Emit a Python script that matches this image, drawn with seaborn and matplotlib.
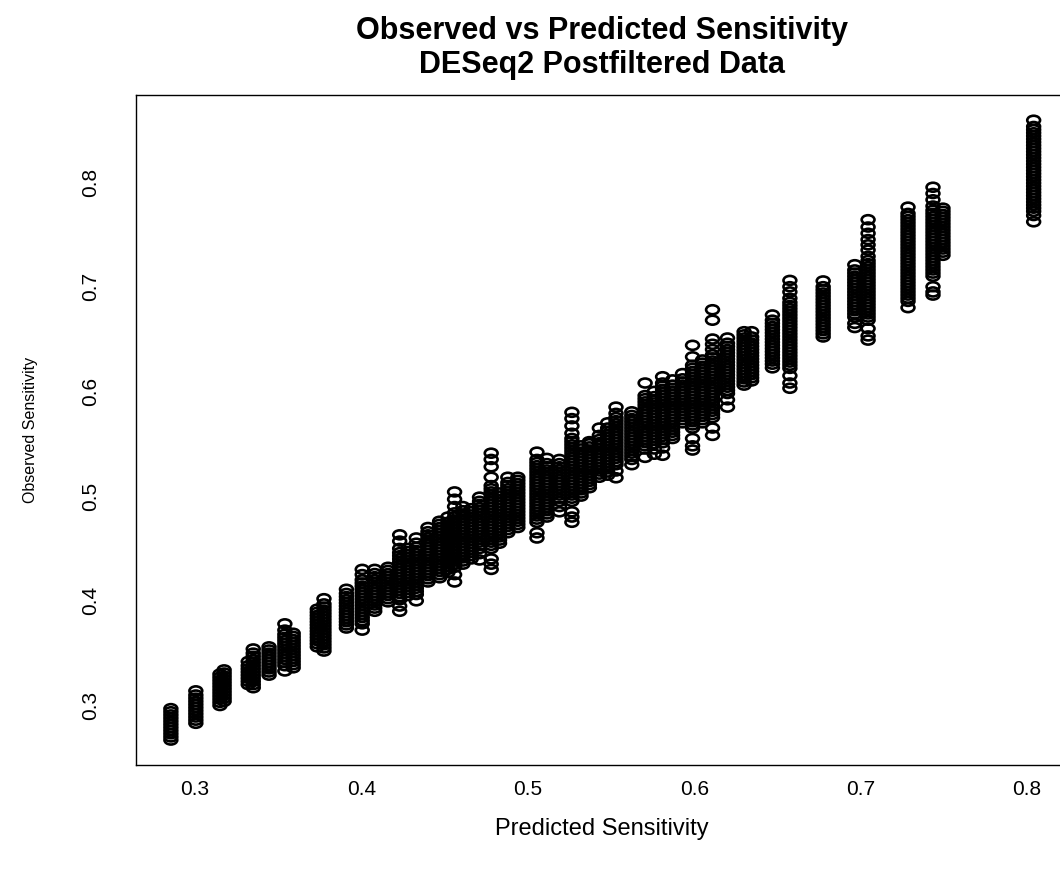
import matplotlib
matplotlib.use("Agg")
import matplotlib.pyplot as plt
from matplotlib.path import Path
from matplotlib.transforms import Affine2D
import numpy as np
import pandas as pd
import seaborn as sns

# Predicted sensitivity levels and the observed sensitivities recorded at each level
predicted_low = [0.2855, 0.3005, 0.3150, 0.3175, 0.3320, 0.3350, 0.3445, 0.3540,
                 0.3590, 0.3735, 0.3775, 0.3910, 0.4005]
observed_low = [
    [0.267, 0.270, 0.273, 0.276, 0.279, 0.282, 0.285, 0.288, 0.291, 0.294, 0.297],
    [0.283, 0.286, 0.289, 0.292, 0.295, 0.298, 0.301, 0.304, 0.307, 0.310, 0.314],
    [0.300, 0.303, 0.306, 0.309, 0.312, 0.315, 0.318, 0.321, 0.324, 0.327, 0.330],
    [0.304, 0.307, 0.310, 0.313, 0.316, 0.319, 0.322, 0.325, 0.328, 0.331, 0.334],
    [0.320, 0.323, 0.326, 0.329, 0.332, 0.335, 0.338, 0.342],
    [0.317, 0.320, 0.323, 0.326, 0.329, 0.332, 0.335, 0.338, 0.341, 0.344, 0.347, 0.350, 0.354],
    [0.329, 0.332, 0.335, 0.338, 0.341, 0.344, 0.347, 0.350, 0.353, 0.356],
    [0.333, 0.338, 0.341, 0.344, 0.347, 0.350, 0.353, 0.356, 0.359, 0.362, 0.365, 0.368,
     0.372, 0.378],
    [0.336, 0.339, 0.342, 0.345, 0.348, 0.351, 0.354, 0.357, 0.360, 0.363, 0.366, 0.369],
    [0.356, 0.359, 0.362, 0.365, 0.368, 0.371, 0.374, 0.377, 0.380, 0.383, 0.386, 0.389, 0.392],
    [0.352, 0.355, 0.358, 0.361, 0.364, 0.367, 0.370, 0.373, 0.376, 0.379, 0.382, 0.385,
     0.388, 0.391, 0.394, 0.397, 0.402],
    [0.374, 0.377, 0.380, 0.383, 0.386, 0.389, 0.392, 0.395, 0.398, 0.401, 0.404, 0.407, 0.411],
    [0.372, 0.378, 0.381, 0.384, 0.387, 0.390, 0.393, 0.396, 0.399, 0.402, 0.405, 0.408,
     0.411, 0.414, 0.417, 0.420, 0.425, 0.430],
]

predicted_mid = [0.4080, 0.4160, 0.4230, 0.4280, 0.4330, 0.4400, 0.4470, 0.4520,
                 0.4560, 0.4610, 0.4660, 0.4710, 0.4780, 0.4830, 0.4880, 0.4940,
                 0.5055, 0.5115, 0.5190, 0.5265, 0.5320, 0.5370, 0.5430, 0.5480]
observed_mid = [
    [0.390, 0.393, 0.396, 0.399, 0.402, 0.405, 0.408, 0.411, 0.414, 0.417, 0.420, 0.423,
     0.426, 0.430],
    [0.399, 0.402, 0.405, 0.408, 0.411, 0.414, 0.417, 0.420, 0.423, 0.426, 0.429, 0.432],
    [0.390, 0.395, 0.401, 0.404, 0.407, 0.410, 0.413, 0.416, 0.419, 0.422, 0.425, 0.428,
     0.431, 0.434, 0.437, 0.440, 0.443, 0.446, 0.450, 0.457, 0.463],
    [0.405, 0.408, 0.411, 0.414, 0.417, 0.420, 0.423, 0.426, 0.429, 0.432, 0.435, 0.438,
     0.441, 0.444, 0.447, 0.450],
    [0.400, 0.406, 0.409, 0.412, 0.415, 0.418, 0.421, 0.424, 0.427, 0.430, 0.433, 0.436,
     0.439, 0.442, 0.445, 0.448, 0.451, 0.455, 0.460],
    [0.418, 0.421, 0.424, 0.427, 0.430, 0.433, 0.436, 0.439, 0.442, 0.445, 0.448, 0.451,
     0.454, 0.457, 0.460, 0.463, 0.466, 0.470],
    [0.422, 0.425, 0.428, 0.431, 0.434, 0.437, 0.440, 0.443, 0.446, 0.449, 0.452, 0.455,
     0.458, 0.461, 0.464, 0.467, 0.470, 0.473, 0.476],
    [0.427, 0.430, 0.433, 0.436, 0.439, 0.442, 0.445, 0.448, 0.451, 0.454, 0.457, 0.460,
     0.463, 0.466, 0.469, 0.472, 0.475, 0.480],
    [0.418, 0.425, 0.432, 0.435, 0.438, 0.441, 0.444, 0.447, 0.450, 0.453, 0.456, 0.459,
     0.462, 0.465, 0.468, 0.471, 0.474, 0.477, 0.480, 0.484, 0.490, 0.497, 0.504],
    [0.435, 0.438, 0.441, 0.444, 0.447, 0.450, 0.453, 0.456, 0.459, 0.462, 0.465, 0.468,
     0.471, 0.474, 0.477, 0.480, 0.483, 0.486, 0.490],
    [0.440, 0.443, 0.446, 0.449, 0.452, 0.455, 0.458, 0.461, 0.464, 0.467, 0.470, 0.473,
     0.476, 0.479, 0.482, 0.485, 0.488],
    [0.439, 0.445, 0.450, 0.453, 0.456, 0.459, 0.462, 0.465, 0.468, 0.471, 0.474, 0.477,
     0.480, 0.483, 0.486, 0.489, 0.492, 0.495, 0.499],
    [0.430, 0.435, 0.440, 0.450, 0.453, 0.456, 0.459, 0.462, 0.465, 0.468, 0.471, 0.474,
     0.477, 0.480, 0.483, 0.486, 0.489, 0.492, 0.495, 0.498, 0.501, 0.504, 0.507, 0.510,
     0.518, 0.528, 0.535, 0.541],
    [0.455, 0.458, 0.461, 0.464, 0.467, 0.470, 0.473, 0.476, 0.479, 0.482, 0.485, 0.488,
     0.491, 0.494, 0.497, 0.500, 0.503],
    [0.465, 0.468, 0.471, 0.474, 0.477, 0.480, 0.483, 0.486, 0.489, 0.492, 0.495, 0.498,
     0.501, 0.504, 0.507, 0.510, 0.513, 0.518],
    [0.470, 0.473, 0.476, 0.479, 0.482, 0.485, 0.488, 0.491, 0.494, 0.497, 0.500, 0.503,
     0.506, 0.509, 0.512, 0.515, 0.518],
    [0.460, 0.465, 0.475, 0.478, 0.481, 0.484, 0.487, 0.490, 0.493, 0.496, 0.499, 0.502,
     0.505, 0.508, 0.511, 0.514, 0.517, 0.520, 0.523, 0.526, 0.529, 0.532, 0.535, 0.542],
    [0.480, 0.483, 0.486, 0.489, 0.492, 0.495, 0.498, 0.501, 0.504, 0.507, 0.510, 0.513,
     0.516, 0.519, 0.522, 0.525, 0.528, 0.531, 0.536],
    [0.485, 0.490, 0.495, 0.498, 0.501, 0.504, 0.507, 0.510, 0.513, 0.516, 0.519, 0.522,
     0.525, 0.528, 0.531, 0.535],
    [0.475, 0.480, 0.485, 0.495, 0.498, 0.501, 0.504, 0.507, 0.510, 0.513, 0.516, 0.519,
     0.522, 0.525, 0.528, 0.531, 0.534, 0.537, 0.540, 0.543, 0.546, 0.549, 0.552, 0.555,
     0.560, 0.567, 0.574, 0.580],
    [0.500, 0.503, 0.506, 0.509, 0.512, 0.515, 0.518, 0.521, 0.524, 0.527, 0.530, 0.533,
     0.536, 0.539, 0.542, 0.545, 0.548],
    [0.508, 0.511, 0.514, 0.517, 0.520, 0.523, 0.526, 0.529, 0.532, 0.535, 0.538, 0.541,
     0.544, 0.547, 0.550, 0.552],
    [0.518, 0.521, 0.524, 0.527, 0.530, 0.533, 0.536, 0.539, 0.542, 0.545, 0.548, 0.551,
     0.554, 0.558, 0.565],
    [0.520, 0.523, 0.526, 0.529, 0.532, 0.535, 0.538, 0.541, 0.544, 0.547, 0.550, 0.553,
     0.556, 0.559, 0.562, 0.565, 0.570],
]

predicted_high = [0.5530, 0.5625, 0.5705, 0.5760, 0.5810, 0.5870, 0.5930, 0.5990,
                  0.6050, 0.6110, 0.6200, 0.6300, 0.6345, 0.6470, 0.6575, 0.6775,
                  0.6965, 0.7045, 0.7285, 0.7435, 0.7495, 0.8040]
observed_high = [
    [0.5175, 0.524, 0.530, 0.533, 0.536, 0.539, 0.542, 0.545, 0.548, 0.551, 0.554, 0.557,
     0.560, 0.563, 0.566, 0.569, 0.572, 0.575, 0.579, 0.585],
    [0.530, 0.535, 0.538, 0.541, 0.544, 0.547, 0.550, 0.553, 0.556, 0.559, 0.562, 0.565,
     0.568, 0.571, 0.574, 0.577, 0.5805],
    [0.537, 0.545, 0.548, 0.551, 0.554, 0.557, 0.560, 0.563, 0.566, 0.569, 0.572, 0.575,
     0.578, 0.581, 0.584, 0.587, 0.590, 0.593, 0.596, 0.608],
    [0.540, 0.545, 0.550, 0.553, 0.556, 0.559, 0.562, 0.565, 0.568, 0.571, 0.574, 0.577,
     0.580, 0.583, 0.586, 0.589, 0.592, 0.595, 0.600],
    [0.539, 0.546, 0.551, 0.554, 0.557, 0.560, 0.563, 0.566, 0.569, 0.572, 0.575, 0.578,
     0.581, 0.584, 0.587, 0.590, 0.593, 0.596, 0.599, 0.602, 0.605, 0.608, 0.614],
    [0.555, 0.558, 0.561, 0.564, 0.567, 0.570, 0.573, 0.576, 0.579, 0.582, 0.585, 0.588,
     0.591, 0.594, 0.597, 0.600, 0.603, 0.606, 0.611],
    [0.570, 0.573, 0.576, 0.579, 0.582, 0.585, 0.588, 0.591, 0.594, 0.597, 0.600, 0.603,
     0.606, 0.609, 0.612, 0.617],
    [0.544, 0.548, 0.555, 0.565, 0.568, 0.571, 0.574, 0.577, 0.580, 0.583, 0.586, 0.589,
     0.592, 0.595, 0.598, 0.601, 0.604, 0.607, 0.610, 0.613, 0.616, 0.619, 0.622, 0.625,
     0.633, 0.644],
    [0.570, 0.573, 0.576, 0.579, 0.582, 0.585, 0.588, 0.591, 0.594, 0.597, 0.600, 0.603,
     0.606, 0.609, 0.612, 0.615, 0.618, 0.621, 0.624, 0.627, 0.630],
    [0.558, 0.565, 0.575, 0.578, 0.581, 0.584, 0.587, 0.590, 0.593, 0.596, 0.599, 0.602,
     0.605, 0.608, 0.611, 0.614, 0.617, 0.620, 0.623, 0.626, 0.629, 0.632, 0.635, 0.640,
     0.645, 0.650, 0.668, 0.678],
    [0.585, 0.592, 0.598, 0.601, 0.604, 0.607, 0.610, 0.613, 0.616, 0.619, 0.622, 0.625,
     0.628, 0.631, 0.634, 0.637, 0.640, 0.643, 0.646, 0.651],
    [0.606, 0.609, 0.612, 0.615, 0.618, 0.621, 0.624, 0.627, 0.630, 0.633, 0.636, 0.639,
     0.642, 0.645, 0.648, 0.651, 0.654, 0.657],
    [0.610, 0.613, 0.616, 0.619, 0.622, 0.625, 0.628, 0.631, 0.634, 0.637, 0.640, 0.643,
     0.646, 0.649, 0.652, 0.657],
    [0.6225, 0.626, 0.629, 0.632, 0.635, 0.638, 0.641, 0.644, 0.647, 0.650, 0.653, 0.656,
     0.659, 0.662, 0.665, 0.668, 0.673],
    [0.603, 0.608, 0.615, 0.622, 0.625, 0.628, 0.631, 0.634, 0.637, 0.640, 0.643, 0.646,
     0.649, 0.652, 0.655, 0.658, 0.661, 0.664, 0.667, 0.670, 0.673, 0.676, 0.679, 0.682,
     0.685, 0.689, 0.695, 0.700, 0.706],
    [0.652, 0.655, 0.658, 0.661, 0.664, 0.667, 0.670, 0.673, 0.676, 0.679, 0.682, 0.685,
     0.688, 0.691, 0.694, 0.697, 0.700, 0.7055],
    [0.661, 0.665, 0.671, 0.674, 0.677, 0.680, 0.683, 0.686, 0.689, 0.692, 0.695, 0.698,
     0.701, 0.704, 0.707, 0.710, 0.713, 0.716, 0.721],
    [0.649, 0.653, 0.660, 0.668, 0.671, 0.674, 0.677, 0.680, 0.683, 0.686, 0.689, 0.692,
     0.695, 0.698, 0.701, 0.704, 0.707, 0.710, 0.713, 0.716, 0.719, 0.722, 0.725, 0.729,
     0.735, 0.740, 0.745, 0.751, 0.757, 0.764],
    [0.680, 0.686, 0.689, 0.692, 0.695, 0.698, 0.701, 0.704, 0.707, 0.710, 0.713, 0.716,
     0.719, 0.722, 0.725, 0.728, 0.731, 0.734, 0.737, 0.740, 0.743, 0.746, 0.749, 0.752,
     0.755, 0.758, 0.761, 0.764, 0.767, 0.770, 0.776],
    [0.692, 0.695, 0.700, 0.710, 0.713, 0.716, 0.719, 0.722, 0.725, 0.728, 0.731, 0.734,
     0.737, 0.740, 0.743, 0.746, 0.749, 0.752, 0.755, 0.758, 0.761, 0.764, 0.767, 0.770,
     0.773, 0.777, 0.783, 0.789, 0.795],
    [0.730, 0.733, 0.736, 0.739, 0.742, 0.745, 0.748, 0.751, 0.754, 0.757, 0.760, 0.763,
     0.766, 0.769, 0.772, 0.775],
    [0.762, 0.768, 0.772, 0.775, 0.778, 0.781, 0.784, 0.787, 0.790, 0.793, 0.796, 0.799,
     0.802, 0.805, 0.808, 0.811, 0.814, 0.817, 0.820, 0.823, 0.826, 0.829, 0.832, 0.835,
     0.838, 0.841, 0.844, 0.847, 0.850, 0.853, 0.859],
]

x_ticks = [0.3, 0.4, 0.5, 0.6, 0.7, 0.8]
y_ticks = [0.3, 0.4, 0.5, 0.6, 0.7, 0.8]

# Long-format table: one row per (predicted, observed) pair
rows = []
for preds, obs in ((predicted_low, observed_low),
                   (predicted_mid, observed_mid),
                   (predicted_high, observed_high)):
    for p, values in zip(preds, obs):
        for v in values:
            rows.append((p, v))
df = pd.DataFrame(rows, columns=["predicted", "observed"])

sns.set_style("white")
plt.rcParams["font.family"] = ["Liberation Sans", "DejaVu Sans"]

W, H = 1060, 869
fig = plt.figure(figsize=(W / 100, H / 100), dpi=100)

# R-style limits: data range extended by 4% on each side
xlo, xhi = df["predicted"].min(), df["predicted"].max()
ylo, yhi = df["observed"].min(), df["observed"].max()
xpad, ypad = 0.04 * (xhi - xlo), 0.04 * (yhi - ylo)
xlo, xhi = xlo - xpad, xhi + xpad
ylo, yhi = ylo - ypad, yhi + ypad

# Pixel scale of the plotting region (0.3 sits at x=195 / y=705.5)
sx, sy = 1664.0, 1047.0
left_px = 195 - (0.3 - xlo) * sx
right_px = left_px + (xhi - xlo) * sx
bottom_px = 705.5 + (0.3 - ylo) * sy
top_px = bottom_px - (yhi - ylo) * sy
ax = fig.add_axes([left_px / W, 1 - bottom_px / H,
                   (right_px - left_px) / W, (bottom_px - top_px) / H])

# Open, slightly flattened circles like the base-graphics pch=1 symbol
ring = Path.unit_circle().transformed(Affine2D().scale(1.0, 0.7))
sns.scatterplot(data=df, x="predicted", y="observed", ax=ax, marker=ring,
                s=85, facecolor="none", edgecolor="black", linewidth=1.9,
                legend=False)

ax.set_xlim(xlo, xhi)
ax.set_ylim(ylo, yhi)
ax.set_xticks(x_ticks)
ax.set_yticks(y_ticks)
ax.set_xticklabels([f"{t:.1f}" for t in x_ticks], fontsize=15)
ax.set_yticklabels([f"{t:.1f}" for t in y_ticks], fontsize=15, rotation=90, va="center")

for side in ["top", "bottom", "left", "right"]:
    ax.spines[side].set_visible(True)
    ax.spines[side].set_color("black")
    ax.spines[side].set_linewidth(1.0)

ax.tick_params(axis="x", direction="out", length=7.5, width=1.0, pad=3.5, colors="black")
ax.tick_params(axis="y", direction="out", length=11, width=1.0, pad=15, colors="black")

ax.set_xlabel("Predicted Sensitivity", fontsize=17, color="black")
ax.set_ylabel("Observed Sensitivity", fontsize=11.5, color="black")
ax.xaxis.set_label_coords(0.5, (bottom_px - 818) / (bottom_px - top_px))
ax.yaxis.set_label_coords((38 - left_px) / (right_px - left_px), 0.5)

fig.text(((left_px + right_px) / 2) / W, 1 - 48 / H,
         "Observed vs Predicted Sensitivity\nDESeq2 Postfiltered Data",
         ha="center", va="center", fontsize=22, fontweight="bold",
         linespacing=1.2, color="black")

fig.savefig("out.png", dpi=100, facecolor="white")
